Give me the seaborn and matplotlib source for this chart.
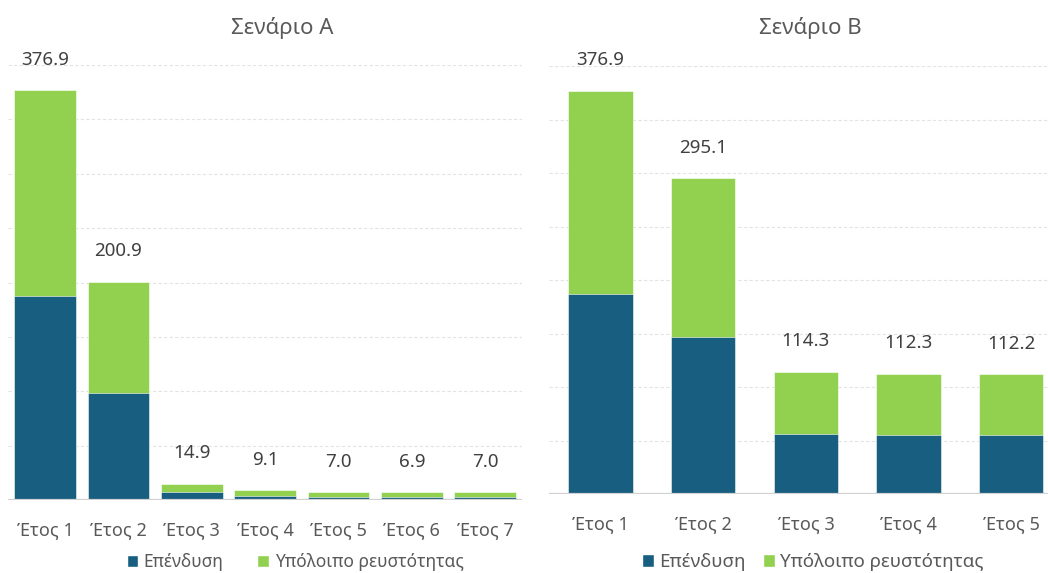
import matplotlib
matplotlib.use("Agg")
import matplotlib.pyplot as plt
import seaborn as sns
import pandas as pd
from matplotlib.patches import Patch

sns.set_theme(style="white")
plt.rcParams['font.family'] = ['Noto Sans', 'DejaVu Sans']

# ---- data ----
years_a = ["Έτος 1", "Έτος 2", "Έτος 3", "Έτος 4", "Έτος 5", "Έτος 6", "Έτος 7"]
invest_a = [187.5, 98.8, 7.0, 4.0, 3.0, 3.0, 3.0]
liquid_a = [189.4, 102.1, 7.9, 5.1, 4.0, 3.9, 4.0]

years_b = ["Έτος 1", "Έτος 2", "Έτος 3", "Έτος 4", "Έτος 5"]
invest_b = [187.5, 146.9, 56.1, 55.2, 55.2]
liquid_b = [189.4, 148.2, 58.2, 57.1, 57.0]

series_names = ["Επένδυση", "Υπόλοιπο ρευστότητας"]
titles = ["Σενάριο A", "Σενάριο B"]

DARK = "#175E81"
GREEN = "#92D050"
TXT = "#595959"
NUM = "#404040"

W, H = 1048, 573
fig = plt.figure(figsize=(W / 100, H / 100), dpi=100)

def px_axes(l, r, top, bottom):
    return [l / W, 1 - bottom / H, (r - l) / W, (bottom - top) / H]

ax_a = fig.add_axes(px_axes(8.3, 521.9, 65, 500))
ax_b = fig.add_axes(px_axes(549.2, 1062.6, 66, 494.3))

def draw(ax, years, inv, liq, width):
    total = [round(i + l, 1) for i, l in zip(inv, liq)]
    df = pd.DataFrame({"year": years, "total": total, "inv": inv})
    sns.barplot(data=df, x="year", y="total", color=GREEN, saturation=1,
                width=width, ax=ax, edgecolor="white", linewidth=0.4)
    sns.barplot(data=df, x="year", y="inv", color=DARK, saturation=1,
                width=width, ax=ax, edgecolor="white", linewidth=0.4)
    ax.set_ylim(0, 400)
    ax.set_xlim(-0.5, len(years) - 0.5)
    for y in range(50, 401, 50):
        ax.axhline(y, color="#e3e3e3", lw=0.8, ls=(0, (3, 2)), zorder=0)
    ax.axhline(0, color="#d0d0d0", lw=1.6, zorder=3)
    for s in ax.spines.values():
        s.set_visible(False)
    ax.set_yticks([])
    ax.set_xlabel("")
    ax.set_ylabel("")
    ax.tick_params(axis="x", length=0, pad=15, labelsize=13, labelcolor=TXT)
    for i, t in enumerate(total):
        ax.annotate(f"{t:.1f}", xy=(i, t), xytext=(0, 22), textcoords="offset points",
                    ha="center", va="center", fontsize=13.5, color=NUM)

draw(ax_a, years_a, invest_a, liquid_a, 0.84)
draw(ax_b, years_b, invest_b, liquid_b, 0.626)

fig.text(282 / W, 1 - 28 / H, titles[0], ha="center", va="center", fontsize=16, color=TXT)
fig.text(810 / W, 1 - 28 / H, titles[1], ha="center", va="center", fontsize=16, color=TXT)

handles = [Patch(facecolor=DARK, label=series_names[0]),
           Patch(facecolor=GREEN, label=series_names[1])]
fig.legend(handles=handles, loc="center", bbox_to_anchor=(295 / W, 1 - 562 / H),
           ncol=2, frameon=False, fontsize=12.5, labelcolor=TXT,
           handlelength=0.69, handleheight=0.69, handletextpad=0.3,
           columnspacing=1.95, borderpad=0)
fig.legend(handles=handles, loc="center", bbox_to_anchor=(813 / W, 1 - 562 / H),
           ncol=2, frameon=False, fontsize=13.5, labelcolor=TXT,
           handlelength=0.64, handleheight=0.64, handletextpad=0.28,
           columnspacing=0.9, borderpad=0)

fig.savefig("out.png", dpi=100)
